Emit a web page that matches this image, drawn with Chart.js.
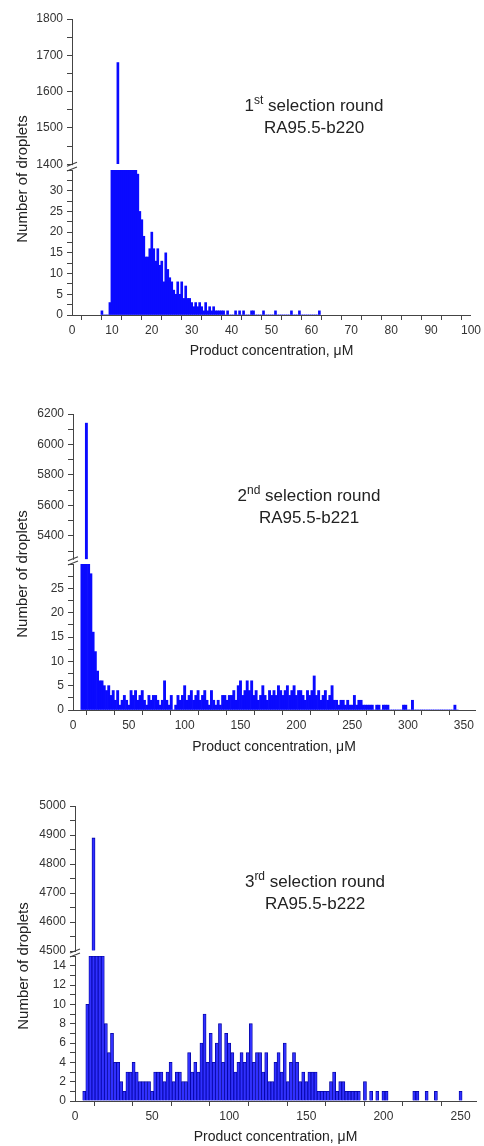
<!DOCTYPE html>
<html>
<head>
<meta charset="utf-8">
<script src="https://cdn.jsdelivr.net/npm/chart.js@4.4.1/dist/chart.umd.min.js"></script>
<style>
  body { margin: 0; background: #fff; width: 484px; height: 1146px; position: relative; overflow: hidden;
         font-family: "Liberation Sans", Arial, sans-serif; color: #222; }
  canvas { position: absolute; left: 0; }
  .ytitle { position: absolute; white-space: nowrap; font-size: 15px; transform: translate(-50%, -50%) rotate(-90deg); }
  .note { position: absolute; width: 240px; text-align: center; font-size: 17px; line-height: 22px; }
  .note sup { font-size: 12px; vertical-align: 7px; line-height: 0; }
</style>
</head>
<body>
<canvas id="round1" width="484" height="360" style="top:0px"></canvas>
<canvas id="round2" width="484" height="376" style="top:380px"></canvas>
<canvas id="round3" width="484" height="356" style="top:790px"></canvas>

<div class="ytitle" style="left:21px; top:179px">Number of droplets</div>
<div class="ytitle" style="left:21px; top:574px">Number of droplets</div>
<div class="ytitle" style="left:22px; top:966px">Number of droplets</div>

<div class="note" style="left:194px; top:95px">1<sup>st</sup> selection round<br>RA95.5-b220</div>
<div class="note" style="left:189px; top:485px">2<sup>nd</sup> selection round<br>RA95.5-b221</div>
<div class="note" style="left:195px; top:871px">3<sup>rd</sup> selection round<br>RA95.5-b222</div>

<script>
// ---- round 1: 0.5 uM bins, first bin centred at 7.5 uM ----
const round1Start = 7.5;
const round1Bin = 0.5;
const round1Counts = [
    1, 0, 0, 0, 3, 260, 820, 1380, 1680, 1150,          // 7.5 - 12.0
    640, 380, 240, 160, 110, 80, 60, 45, 34, 25,        // 12.5 - 17.0
    23, 19, 14, 14, 16, 20, 16, 13, 16, 12,             // 17.5 - 22.0
    13, 8, 15, 11, 9, 8, 6, 5, 8, 5,                    // 22.5 - 27.0
    8, 4, 7, 4, 4, 3, 2, 3, 2, 3,                       // 27.5 - 32.0
    2, 1, 3, 1, 2, 1, 2, 1, 1, 1,                       // 32.5 - 37.0
    1, 1, 0, 1, 0, 0, 0, 1, 0, 1,                       // 37.5 - 42.0
    0, 1, 0, 0, 0, 1, 1, 0, 0, 0,                       // 42.5 - 47.0
    0, 1, 0, 0, 0, 0, 0, 1, 0, 0,                       // 47.5 - 52.0
    0, 0, 0, 0, 0, 1, 0, 0, 0, 1,                       // 52.5 - 57.0
    0, 0, 0, 0, 0, 0, 0, 0, 0, 1                        // 57.5 - 62.0
];
const round1XTicks = [0, 10, 20, 30, 40, 50, 60, 70, 80, 90, 100];
const round1LowTicks = [0, 5, 10, 15, 20, 25, 30];
const round1UpTicks = [1400, 1500, 1600, 1700, 1800];

// ---- round 2: 2 uM bins, first bin centred at 8 uM ----
const round2Start = 8;
const round2Bin = 2;
const round2Counts = [
    420, 2100, 6140, 1200, 28, 16, 12, 8, 6, 6,         // 8 - 26
    5, 4, 5, 3, 4, 2, 4, 1, 2, 3,                       // 28 - 46
    2, 1, 4, 3, 4, 2, 3, 4, 2, 1,                       // 48 - 66
    3, 2, 3, 3, 2, 1, 2, 6, 2, 1,                       // 68 - 86
    3, 0, 1, 3, 2, 3, 5, 2, 3, 4,                       // 88 - 106
    2, 3, 4, 2, 3, 4, 2, 1, 4, 2,                       // 108 - 126
    1, 2, 1, 3, 3, 2, 3, 3, 4, 2,                       // 128 - 146
    5, 6, 3, 4, 6, 4, 6, 3, 4, 2,                       // 148 - 166
    3, 5, 3, 2, 4, 3, 4, 3, 5, 4,                       // 168 - 186
    3, 4, 5, 3, 4, 5, 3, 4, 4, 3,                       // 188 - 206
    2, 4, 3, 4, 7, 3, 4, 2, 3, 4,                       // 208 - 226
    2, 3, 5, 2, 2, 1, 2, 2, 1, 2,                       // 228 - 246
    1, 1, 3, 1, 2, 2, 1, 1, 1, 1,                       // 248 - 266
    1, 0, 1, 1, 0, 1, 1, 1, 0, 0,                       // 268 - 286
    0, 0, 0, 0, 1, 1, 0, 0, 2, 0,                       // 288 - 306
    0, 0, 0, 0, 0, 0, 0, 0, 0, 0,                       // 308 - 326
    0, 0, 0, 0, 0, 0, 0, 1, 0                           // 328 - 344
];
const round2XTicks = [0, 50, 100, 150, 200, 250, 300, 350];
const round2LowTicks = [0, 5, 10, 15, 20, 25];
const round2UpTicks = [5400, 5600, 5800, 6000, 6200];

// ---- round 3: 2 uM bins, first bin centred at 6 uM ----
const round3Start = 6;
const round3Bin = 2;
const round3Counts = [
    1, 10, 320, 4890, 1100, 140, 30, 8, 5, 7,           // 6 - 24
    4, 4, 2, 1, 3, 3, 4, 3, 2, 2,                       // 26 - 44
    2, 2, 1, 3, 3, 3, 2, 3, 4, 2,                       // 46 - 64
    3, 3, 2, 2, 5, 3, 4, 3, 6, 9,                       // 66 - 84
    4, 7, 4, 6, 8, 4, 7, 6, 5, 3,                       // 86 - 104
    4, 5, 4, 5, 8, 4, 5, 5, 3, 5,                       // 106 - 124
    2, 2, 4, 5, 3, 6, 2, 4, 5, 4,                       // 126 - 144
    2, 3, 2, 3, 3, 3, 1, 1, 1, 1,                       // 146 - 164
    2, 3, 1, 2, 2, 1, 1, 1, 1, 1,                       // 166 - 184
    0, 2, 0, 1, 0, 1, 0, 1, 1, 0,                       // 186 - 204
    0, 0, 0, 0, 0, 0, 0, 1, 1, 0,                       // 206 - 224
    0, 1, 0, 0, 1, 0, 0, 0, 0, 0,                       // 226 - 244
    0, 0, 1                                             // 246 - 250
];
const round3XTicks = [0, 50, 100, 150, 200, 250];
const round3LowTicks = [0, 2, 4, 6, 8, 10, 12, 14];
const round3UpTicks = [4500, 4600, 4700, 4800, 4900, 5000];

const axisColor = "#444";
const labelColor = "#333";

// draws the "//" break on the y axis between the two stacked scales
const axisBreak = {
    id: "axisBreak",
    afterDraw(chart, args, opts) {
        const up = chart.scales.yUp;
        const low = chart.scales.y;
        const ctx = chart.ctx;
        const x = chart.chartArea.left;
        const yA = up.getPixelForValue(opts.at);
        const yB = low.top;
        ctx.save();
        ctx.fillStyle = "#fff";
        ctx.fillRect(x - 3, yA + 1, 6, yB - yA - 1);
        ctx.strokeStyle = axisColor;
        ctx.lineWidth = 1.2;
        ctx.beginPath();
        ctx.moveTo(x - 5, yA + 2);
        ctx.lineTo(x + 5, yA - 2);
        ctx.moveTo(x - 5, yB + 1);
        ctx.lineTo(x + 5, yB - 3);
        ctx.stroke();
        ctx.restore();
    }
};

function majorsOnly(list) {
    return function (value) {
        return list.includes(value) ? String(value) : "";
    };
}

// ticks every `step` inside the scale range (min/max stay where they were set)
function stepTicks(step) {
    return function (scale) {
        const out = [];
        for (let v = Math.ceil(scale.min / step - 1e-9) * step; v <= scale.max + 1e-9; v += step) {
            out.push({ value: Math.round(v * 1000) / 1000 });
        }
        scale.ticks = out;
    };
}

function axisStyle(width, step) {
    return {
        border: { display: true, color: axisColor, width: 1 },
        grid: { drawOnChartArea: false, drawTicks: true, tickLength: 5, color: axisColor },
        afterFit: width ? function (scale) { scale.width = width; } : undefined,
        afterBuildTicks: stepTicks(step)
    };
}

function makePanel(p) {
    const lower = [];
    const upper = [];
    for (let i = 0; i < p.counts.length; i++) {
        const x = p.start + i * p.bin;
        lower.push({ x: x, y: Math.min(p.counts[i], p.lowMax) });
        upper.push({ x: x, y: p.counts[i] > p.upBase ? p.counts[i] : null });
    }

    const tickFont = { family: "'Liberation Sans', Arial, sans-serif", size: 12 };
    const barStyle = {
        backgroundColor: p.fill,
        borderColor: p.edge,
        borderWidth: p.edgeWidth,
        barPercentage: 1,
        categoryPercentage: 1,
        grouped: false
    };

    return new Chart(document.getElementById(p.id), {
        type: "bar",
        data: {
            datasets: [
                Object.assign({ data: lower, yAxisID: "y" }, barStyle),
                Object.assign({ data: upper, yAxisID: "yUp", base: p.upBase }, barStyle)
            ]
        },
        plugins: [axisBreak],
        options: {
            responsive: false,
            animation: false,
            events: [],
            layout: { padding: p.padding },
            plugins: {
                legend: { display: false },
                tooltip: { enabled: false },
                axisBreak: { at: p.upBase }
            },
            scales: {
                x: Object.assign(axisStyle(0, p.xStep), {
                    type: "linear",
                    min: 0,
                    max: p.xMax,
                    bounds: "data",
                    offset: false,
                    afterFit: function (scale) { scale.height = p.xHeight; },
                    ticks: {
                        autoSkip: false, maxRotation: 0, padding: 3, color: labelColor, font: tickFont,
                        callback: majorsOnly(p.xTicks)
                    },
                    title: {
                        display: true,
                        text: "Product concentration, \u03bcM",
                        color: "#222",
                        font: { family: "'Liberation Sans', Arial, sans-serif", size: 14 },
                        padding: { top: 0, bottom: 0 }
                    }
                }),
                y: Object.assign(axisStyle(p.yWidth, p.lowStep), {
                    type: "linear",
                    position: "left",
                    stack: p.id,
                    stackWeight: p.lowWeight,
                    weight: 0,
                    min: 0,
                    max: p.lowMax,
                    bounds: "data",
                    ticks: {
                        autoSkip: false, padding: 4, color: labelColor, font: tickFont,
                        callback: majorsOnly(p.lowTicks)
                    }
                }),
                yUp: Object.assign(axisStyle(p.yWidth, p.upStep), {
                    type: "linear",
                    position: "left",
                    stack: p.id,
                    stackWeight: p.upWeight,
                    weight: 1,
                    min: p.upMin,
                    max: p.upMax,
                    bounds: "data",
                    ticks: {
                        autoSkip: false, padding: 4, color: labelColor, font: tickFont,
                        callback: majorsOnly(p.upTicks)
                    }
                })
            }
        }
    });
}

makePanel({
    id: "round1", start: round1Start, bin: round1Bin, counts: round1Counts,
    xMax: 100, xStep: 5, xTicks: round1XTicks,
    lowMax: 35, lowStep: 2.5, lowTicks: round1LowTicks,
    upMin: 1384, upMax: 1800, upBase: 1400, upStep: 50, upTicks: round1UpTicks,
    upWeight: 151, lowWeight: 145,
    padding: { top: 19, right: 11, bottom: 0, left: 0 }, yWidth: 72, xHeight: 45,
    fill: "#0a0aff", edge: "#0a0aff", edgeWidth: 0
});

makePanel({
    id: "round2", start: round2Start, bin: round2Bin, counts: round2Counts,
    xMax: 360, xStep: 25, xTicks: round2XTicks,
    lowMax: 30, lowStep: 2.5, lowTicks: round2LowTicks,
    upMin: 5216, upMax: 6200, upBase: 5250, upStep: 100, upTicks: round2UpTicks,
    upWeight: 150, lowWeight: 146,
    padding: { top: 34, right: 9, bottom: 0, left: 0 }, yWidth: 73, xHeight: 46,
    fill: "#0a0aff", edge: "#0a0aff", edgeWidth: 0
});

makePanel({
    id: "round3", start: round3Start, bin: round3Bin, counts: round3Counts,
    xMax: 260, xStep: 25, xTicks: round3XTicks,
    lowMax: 15, lowStep: 1, lowTicks: round3LowTicks,
    upMin: 4483, upMax: 5000, upBase: 4500, upStep: 50, upTicks: round3UpTicks,
    upWeight: 150, lowWeight: 145,
    padding: { top: 16, right: 8, bottom: 0, left: 0 }, yWidth: 75, xHeight: 45,
    fill: "#3030ff", edge: "#0000a0", edgeWidth: 0.8
});
</script>
</body>
</html>
